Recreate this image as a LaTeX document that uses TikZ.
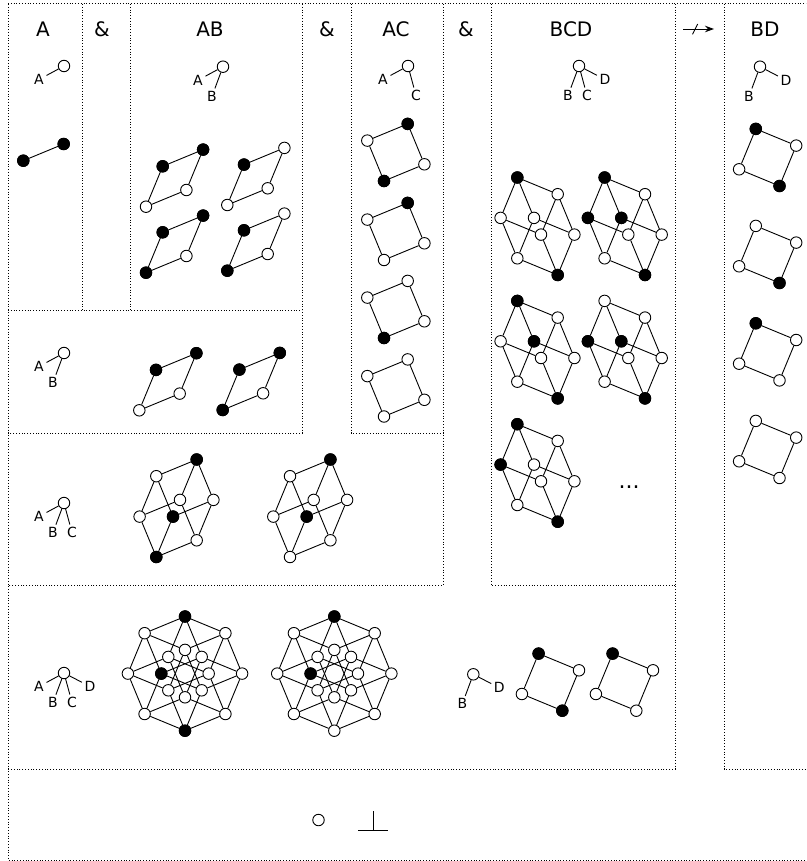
\documentclass[tikz,border=0pt]{standalone}
\usepackage{fontspec}
\setmainfont{DejaVu Sans}
\usetikzlibrary{
  arrows.meta,
  backgrounds
}
\newcommand{\hypercube}[6]{%
  \begin{scope}[shift={#2}]
    \foreach \a in {#3} \foreach \b in {#4} \foreach \c in {#5} \foreach \d in {#6} {
      \pgfmathtruncatemacro{\n}{\a+2*\b+4*\c+8*\d}
      \node[dot] (#1-\n) at ({40.4*\a+16.7*\b-16.7*\c-40.4*\d},{-16.7*\a-40.4*\b-40.4*\c-16.7*\d}) {};
      \begin{scope}[on background layer]
        \foreach \bit/\val in {\a/1,\b/2,\c/4,\d/8} {
          \ifnum\bit=1
            \pgfmathtruncatemacro{\m}{\n-\val}
            \draw[edge] (#1-\n) -- (#1-\m);
          \fi
        }
      \end{scope}
    }
  \end{scope}
}
\newcommand{\blacken}[2]{%
  \foreach \k in {#2} \node[dot, fill=black] (#1-\k) at (#1-\k) {};
}
\newcommand{\keytree}[3]{%
  \node[dot] (#1) at #2 {};
  \foreach \lab in {#3} {
    \node[keylabel, key\lab] (#1\lab) at (#1) {\lab};
    \draw[edge] (#1) -- (#1\lab);
  }
}
\begin{document}
\begin{tikzpicture}[
    x=1pt, y=-1pt,
    dot/.style={circle, draw=black, fill=white, line width=0.9pt, minimum size=11.5pt, inner sep=0pt},
    edge/.style={line width=0.9pt},
    region/.style={line width=1pt, dash pattern=on 1pt off 1.8pt},
    title/.style={font=\fontsize{20}{24}\selectfont},
    keylabel/.style={font=\fontsize{14}{16}\selectfont, inner sep=2.5pt},
    keyA/.style={xshift=-25pt, yshift=-13.5pt},
    keyB/.style={xshift=-11pt, yshift=-29.5pt},
    keyC/.style={xshift=8pt, yshift=-29.5pt},
    keyD/.style={xshift=26pt, yshift=-13.5pt}
  ]
  \useasboundingbox (0,0) rectangle (806,861);

  % Regions
  \draw[region] (8,4) -- (806,4);
  \draw[region] (8,4) -- (8,860) -- (806,860);
  \draw[region] (82,4) -- (82,310);
  \draw[region] (130,4) -- (130,310);
  \draw[region] (8,310) -- (302,310);
  \draw[region] (302,4) -- (302,433) -- (8,433);
  \draw[region] (351,4) -- (351,433) -- (443,433);
  \draw[region] (443,4) -- (443,585) -- (8,585);
  \draw[region] (491,4) -- (491,585) -- (675,585);
  \draw[region] (675,4) -- (675,769) -- (8,769);
  \draw[region] (724,4) -- (724,769) -- (806,769);

  % Titles
  \node[title] (titleA) at (43,29) {A};
  \node[title] (and1) at (102,29) {\&};
  \node[title] (titleAB) at (210,29) {AB};
  \node[title] (and2) at (327,29) {\&};
  \node[title] (titleAC) at (396,29) {AC};
  \node[title] (and3) at (466,29) {\&};
  \node[title] (titleBCD) at (571,29) {BCD};
  \node[title] (titleBD) at (765,29) {BD};

  % Arrow
  \coordinate (arrowstart) at (683,29);
  \coordinate (arrowend) at (714,29);
  \coordinate (slashstart) at (692.5,34.3);
  \coordinate (slashend) at (697.7,24);
  \draw[edge, -{Stealth[length=9pt, width=6.5pt]}] (arrowstart) -- (arrowend);
  \draw[edge] (slashstart) -- (slashend);

  % Keys
  \keytree{keyonea}{(64,66)}{A}
  \keytree{keyab}{(223,66.7)}{A,B}
  \keytree{keyac}{(408,66)}{A,C}
  \keytree{keybcd}{(579,66)}{B,C,D}
  \keytree{keybd}{(760,66.7)}{B,D}
  \keytree{keyrowab}{(64,353)}{A,B}
  \keytree{keyrowabc}{(64,503)}{A,B,C}
  \keytree{keyrowabcd}{(64,673)}{A,B,C,D}
  \keytree{keyrowbd}{(473.3,674.3)}{B,D}

  % Column A
  \hypercube{a}{(23.3,160.7)}{0,1}{0}{0}{0}
  \blacken{a}{0,1}

  % Column AB
  \hypercube{aba}{(146,206.7)}{0,1}{0,1}{0}{0}
  \blacken{aba}{2,3}
  \hypercube{abb}{(227.3,205)}{0,1}{0,1}{0}{0}
  \blacken{abb}{2}
  \hypercube{abc}{(146,272.7)}{0,1}{0,1}{0}{0}
  \blacken{abc}{0,2,3}
  \hypercube{abd}{(227.3,270.7)}{0,1}{0,1}{0}{0}
  \blacken{abd}{0,2}

  % Row AB
  \hypercube{rowaba}{(139.3,410.3)}{0,1}{0,1}{0}{0}
  \blacken{rowaba}{2,3}
  \hypercube{rowabb}{(222.7,410)}{0,1}{0,1}{0}{0}
  \blacken{rowabb}{0,2,3}

  % Column AC
  \hypercube{aca}{(384,181)}{0,1}{0}{0,1}{0}
  \blacken{aca}{0,5}
  \hypercube{acb}{(384,260)}{0,1}{0}{0,1}{0}
  \blacken{acb}{5}
  \hypercube{acc}{(384,338)}{0,1}{0}{0,1}{0}
  \blacken{acc}{0}
  \hypercube{acd}{(384,416.5)}{0,1}{0}{0,1}{0}

  % Column BCD
  \hypercube{bcda}{(557.7,275)}{0}{0,1}{0,1}{0,1}
  \blacken{bcda}{0,14}
  \hypercube{bcdb}{(645,275)}{0}{0,1}{0,1}{0,1}
  \blacken{bcdb}{0,10,12,14}
  \hypercube{bcdc}{(557.7,398.4)}{0}{0,1}{0,1}{0,1}
  \blacken{bcdc}{0,10,14}
  \hypercube{bcdd}{(645,398.4)}{0}{0,1}{0,1}{0,1}
  \blacken{bcdd}{0,10,12}
  \hypercube{bcde}{(557.7,521.7)}{0}{0,1}{0,1}{0,1}
  \blacken{bcde}{0,12,14}
  \node[title, font=\fontsize{22}{24}\selectfont, anchor=base] (dots) at (629,488) {...};

  % Column BD
  \hypercube{bda}{(779.5,186)}{0}{0,1}{0}{0,1}
  \blacken{bda}{0,10}
  \hypercube{bdb}{(779.5,283)}{0}{0,1}{0}{0,1}
  \blacken{bdb}{0}
  \hypercube{bdc}{(779.5,380.4)}{0}{0,1}{0}{0,1}
  \blacken{bdc}{10}
  \hypercube{bdd}{(779.5,478)}{0}{0,1}{0}{0,1}

  % Row ABC
  \hypercube{abca}{(156.3,557)}{0,1}{0,1}{0,1}{0}
  \blacken{abca}{0,2,7}
  \hypercube{abcb}{(290,557)}{0,1}{0,1}{0,1}{0}
  \blacken{abcb}{2,7}

  % Row ABCD
  \hypercube{abcda}{(185,730.7)}{0,1}{0,1}{0,1}{0,1}
  \blacken{abcda}{0,10,15}
  \hypercube{abcdb}{(334.3,730.7)}{0,1}{0,1}{0,1}{0,1}
  \blacken{abcdb}{10,15}

  % Row BD
  \hypercube{rowbda}{(562.3,710.7)}{0}{0,1}{0}{0,1}
  \blacken{rowbda}{0,10}
  \hypercube{rowbdb}{(636.3,710.7)}{0}{0,1}{0}{0,1}
  \blacken{rowbdb}{10}

  % Bottom
  \node[dot] (bottomdot) at (318.5,820) {};
  \coordinate (perptop) at (373,811);
  \coordinate (perpmid) at (373,830);
  \coordinate (perpleft) at (358,830);
  \coordinate (perpright) at (388,830);
  \draw[edge] (perptop) -- (perpmid);
  \draw[edge] (perpleft) -- (perpright);
\end{tikzpicture}
\end{document}
